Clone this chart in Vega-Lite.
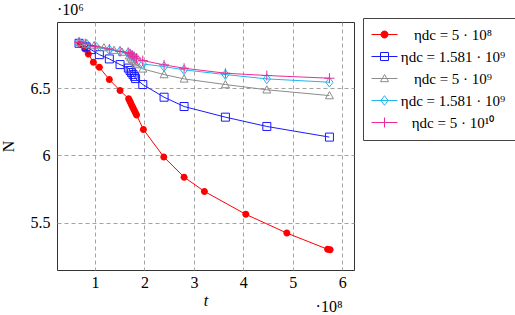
{
  "$schema": "https://vega.github.io/schema/vega-lite/v6.json",
  "width": 297,
  "height": 248,
  "autosize": {"type": "none"},
  "padding": {"left": 57, "top": 22, "right": 161, "bottom": 45},
  "title": {"text": "·10⁶", "anchor": "start", "frame": "group", "offset": 0, "font": "Liberation Serif", "fontSize": 16, "fontWeight": "normal", "color": "#000"},
  "data": {"values": [
    {"series": "s1", "t": 0.696, "N": 6.827},
    {"series": "s1", "t": 0.798, "N": 6.790},
    {"series": "s1", "t": 0.864, "N": 6.753},
    {"series": "s1", "t": 0.966, "N": 6.691},
    {"series": "s1", "t": 1.087, "N": 6.654},
    {"series": "s1", "t": 1.289, "N": 6.563},
    {"series": "s1", "t": 1.506, "N": 6.481},
    {"series": "s1", "t": 1.680, "N": 6.420},
    {"series": "s1", "t": 1.700, "N": 6.405},
    {"series": "s1", "t": 1.720, "N": 6.390},
    {"series": "s1", "t": 1.740, "N": 6.375},
    {"series": "s1", "t": 1.760, "N": 6.360},
    {"series": "s1", "t": 1.780, "N": 6.345},
    {"series": "s1", "t": 1.800, "N": 6.330},
    {"series": "s1", "t": 1.820, "N": 6.315},
    {"series": "s1", "t": 1.840, "N": 6.300},
    {"series": "s1", "t": 1.978, "N": 6.193},
    {"series": "s1", "t": 2.391, "N": 5.989},
    {"series": "s1", "t": 2.802, "N": 5.839},
    {"series": "s1", "t": 3.213, "N": 5.733},
    {"series": "s1", "t": 4.051, "N": 5.563},
    {"series": "s1", "t": 4.881, "N": 5.424},
    {"series": "s1", "t": 5.706, "N": 5.304},
    {"series": "s1", "t": 5.757, "N": 5.300},
    {"series": "s2", "t": 0.676, "N": 6.832},
    {"series": "s2", "t": 0.818, "N": 6.807},
    {"series": "s2", "t": 0.919, "N": 6.785},
    {"series": "s2", "t": 1.087, "N": 6.748},
    {"series": "s2", "t": 1.289, "N": 6.716},
    {"series": "s2", "t": 1.506, "N": 6.674},
    {"series": "s2", "t": 1.674, "N": 6.648},
    {"series": "s2", "t": 1.709, "N": 6.630},
    {"series": "s2", "t": 1.739, "N": 6.615},
    {"series": "s2", "t": 1.769, "N": 6.600},
    {"series": "s2", "t": 1.800, "N": 6.585},
    {"series": "s2", "t": 1.820, "N": 6.570},
    {"series": "s2", "t": 1.966, "N": 6.526},
    {"series": "s2", "t": 2.397, "N": 6.432},
    {"series": "s2", "t": 2.802, "N": 6.363},
    {"series": "s2", "t": 3.638, "N": 6.284},
    {"series": "s2", "t": 4.476, "N": 6.215},
    {"series": "s2", "t": 5.743, "N": 6.136},
    {"series": "s3", "t": 0.676, "N": 6.839},
    {"series": "s3", "t": 0.818, "N": 6.826},
    {"series": "s3", "t": 0.980, "N": 6.815},
    {"series": "s3", "t": 1.180, "N": 6.800},
    {"series": "s3", "t": 1.385, "N": 6.781},
    {"series": "s3", "t": 1.547, "N": 6.767},
    {"series": "s3", "t": 1.690, "N": 6.740},
    {"series": "s3", "t": 1.720, "N": 6.725},
    {"series": "s3", "t": 1.750, "N": 6.712},
    {"series": "s3", "t": 1.780, "N": 6.700},
    {"series": "s3", "t": 1.810, "N": 6.688},
    {"series": "s3", "t": 1.830, "N": 6.674},
    {"series": "s3", "t": 1.966, "N": 6.642},
    {"series": "s3", "t": 2.397, "N": 6.600},
    {"series": "s3", "t": 2.802, "N": 6.568},
    {"series": "s3", "t": 3.638, "N": 6.526},
    {"series": "s3", "t": 4.476, "N": 6.487},
    {"series": "s3", "t": 5.743, "N": 6.444},
    {"series": "s4", "t": 0.676, "N": 6.839},
    {"series": "s4", "t": 0.830, "N": 6.827},
    {"series": "s4", "t": 1.030, "N": 6.802},
    {"series": "s4", "t": 1.289, "N": 6.783},
    {"series": "s4", "t": 1.506, "N": 6.772},
    {"series": "s4", "t": 1.670, "N": 6.760},
    {"series": "s4", "t": 1.710, "N": 6.750},
    {"series": "s4", "t": 1.750, "N": 6.740},
    {"series": "s4", "t": 1.790, "N": 6.730},
    {"series": "s4", "t": 1.840, "N": 6.720},
    {"series": "s4", "t": 1.966, "N": 6.679},
    {"series": "s4", "t": 2.397, "N": 6.659},
    {"series": "s4", "t": 2.802, "N": 6.635},
    {"series": "s4", "t": 3.638, "N": 6.600},
    {"series": "s4", "t": 4.476, "N": 6.568},
    {"series": "s4", "t": 5.743, "N": 6.543},
    {"series": "s5", "t": 0.676, "N": 6.840},
    {"series": "s5", "t": 0.800, "N": 6.830},
    {"series": "s5", "t": 1.000, "N": 6.810},
    {"series": "s5", "t": 1.289, "N": 6.790},
    {"series": "s5", "t": 1.506, "N": 6.772},
    {"series": "s5", "t": 1.670, "N": 6.765},
    {"series": "s5", "t": 1.710, "N": 6.755},
    {"series": "s5", "t": 1.750, "N": 6.745},
    {"series": "s5", "t": 1.790, "N": 6.735},
    {"series": "s5", "t": 1.840, "N": 6.722},
    {"series": "s5", "t": 1.966, "N": 6.704},
    {"series": "s5", "t": 2.397, "N": 6.672},
    {"series": "s5", "t": 2.802, "N": 6.647},
    {"series": "s5", "t": 3.638, "N": 6.610},
    {"series": "s5", "t": 4.476, "N": 6.593},
    {"series": "s5", "t": 5.743, "N": 6.573}
  ]},
  "layer": [
    {
      "mark": {"type": "line", "strokeWidth": 1},
      "encoding": {
        "x": {"field": "t", "type": "quantitative", "scale": {"domain": [0.23, 6.24], "nice": false, "zero": false},
          "axis": {"values": [1, 2, 3, 4, 5, 6], "format": "d", "title": "t", "titleFontStyle": "italic", "grid": true, "ticks": false, "domain": false, "labelPadding": 4, "titlePadding": 2}},
        "y": {"field": "N", "type": "quantitative", "scale": {"domain": [5.15, 6.99], "nice": false, "zero": false},
          "axis": {"values": [5.5, 6, 6.5], "format": "~g", "title": "N", "grid": true, "ticks": false, "domain": false, "labelPadding": 7, "titlePadding": 14}},
        "color": {"field": "series", "type": "nominal",
          "scale": {"domain": ["s1", "s2", "s3", "s4", "s5"], "range": ["#ff0000", "#1a1aff", "#8c8c8c", "#22b5ee", "#ee2a9a"]},
          "legend": {
            "title": null, "orient": "none", "legendX": 306, "legendY": -4,
            "padding": 9, "strokeColor": "#444", "fillColor": "#ffffff", "cornerRadius": 0,
            "symbolSize": 64, "symbolStrokeWidth": 1, "symbolOffset": 5,
            "labelFont": "Liberation Serif", "labelFontSize": 15, "labelColor": "#000", "labelAlign": "center", "labelOffset": 61, "labelLimit": 200,
            "rowPadding": 6,
            "labelExpr": "datum.value === 's1' ? 'ηdc = 5 · 10⁸' : datum.value === 's2' ? 'ηdc = 1.581 · 10⁹' : datum.value === 's3' ? 'ηdc = 5 · 10⁹' : datum.value === 's4' ? 'ηdc = 1.581 · 10⁹' : 'ηdc = 5 · 10¹⁰'",
            "encode": {"symbols": {"update": {
              "shape": {"signal": "datum.value === 's1' ? 'M-3.25,0H3.25M-0.875,0A0.875,0.875,0,1,1,0.875,0A0.875,0.875,0,1,1,-0.875,0Z' : datum.value === 's2' ? 'M-3.25,0H3.25M-1,-1H1V1H-1Z' : datum.value === 's3' ? 'M-3.25,0H3.25M0,-1L1,0.8L-1,0.8Z' : datum.value === 's4' ? 'M-3.25,0H3.25M0,-1.2L0.9,0L0,1.2L-0.9,0Z' : 'M-3.25,0H3.25M0,-1.25V1.25'"},
              "fillOpacity": {"signal": "datum.value === 's1' ? 1 : 0"},
              "stroke": {"scale": "color", "field": "value"},
              "strokeWidth": {"value": 1},
              "strokeOpacity": {"value": 1},
              "opacity": {"value": 1}
            }}}
          }}
      }
    },
    {
      "transform": [{"filter": "datum.series === 's1'"}],
      "mark": {"type": "point", "filled": true, "opacity": 1, "size": 64, "shape": "M-0.875,0A0.875,0.875,0,1,1,0.875,0A0.875,0.875,0,1,1,-0.875,0Z"},
      "encoding": {
        "x": {"field": "t", "type": "quantitative",
          "axis": {"orient": "bottom", "domain": false, "ticks": false, "labels": false, "grid": false, "title": "·10⁸", "titleAlign": "right", "titleAnchor": "end", "titleX": 285, "titleY": 41, "titleBaseline": "alphabetic"}},
        "y": {"field": "N", "type": "quantitative"},
        "color": {"field": "series", "type": "nominal"}
      }
    },
    {
      "transform": [{"filter": "datum.series === 's2'"}],
      "mark": {"type": "point", "filled": false, "strokeWidth": 1, "opacity": 1, "size": 64, "shape": "M-1,-1H1V1H-1Z"},
      "encoding": {
        "x": {"field": "t", "type": "quantitative", "axis": null},
        "y": {"field": "N", "type": "quantitative"},
        "color": {"field": "series", "type": "nominal"}
      }
    },
    {
      "transform": [{"filter": "datum.series === 's3'"}],
      "mark": {"type": "point", "filled": false, "strokeWidth": 1, "opacity": 1, "size": 64, "shape": "M0,-1L1,0.8L-1,0.8Z"},
      "encoding": {
        "x": {"field": "t", "type": "quantitative", "axis": null},
        "y": {"field": "N", "type": "quantitative"},
        "color": {"field": "series", "type": "nominal"}
      }
    },
    {
      "transform": [{"filter": "datum.series === 's4'"}],
      "mark": {"type": "point", "filled": false, "strokeWidth": 1, "opacity": 1, "size": 64, "shape": "M0,-1.2L0.9,0L0,1.2L-0.9,0Z"},
      "encoding": {
        "x": {"field": "t", "type": "quantitative", "axis": null},
        "y": {"field": "N", "type": "quantitative"},
        "color": {"field": "series", "type": "nominal"}
      }
    },
    {
      "transform": [{"filter": "datum.series === 's5'"}],
      "mark": {"type": "point", "filled": false, "strokeWidth": 1, "opacity": 1, "size": 64, "shape": "M0,-1.25V1.25M-1.25,0H1.25"},
      "encoding": {
        "x": {"field": "t", "type": "quantitative", "axis": null},
        "y": {"field": "N", "type": "quantitative"},
        "color": {"field": "series", "type": "nominal"}
      }
    }
  ],
  "resolve": {"axis": {"x": "independent"}},
  "config": {
    "view": {"stroke": "#333", "strokeWidth": 1},
    "axis": {"labelFont": "Liberation Serif", "labelFontSize": 16, "labelColor": "#000", "titleFont": "Liberation Serif", "titleFontSize": 16, "titleFontWeight": "normal", "titleColor": "#000", "gridColor": "#999", "gridDash": [4, 3], "gridWidth": 0.9, "gridOpacity": 1}
  }
}
